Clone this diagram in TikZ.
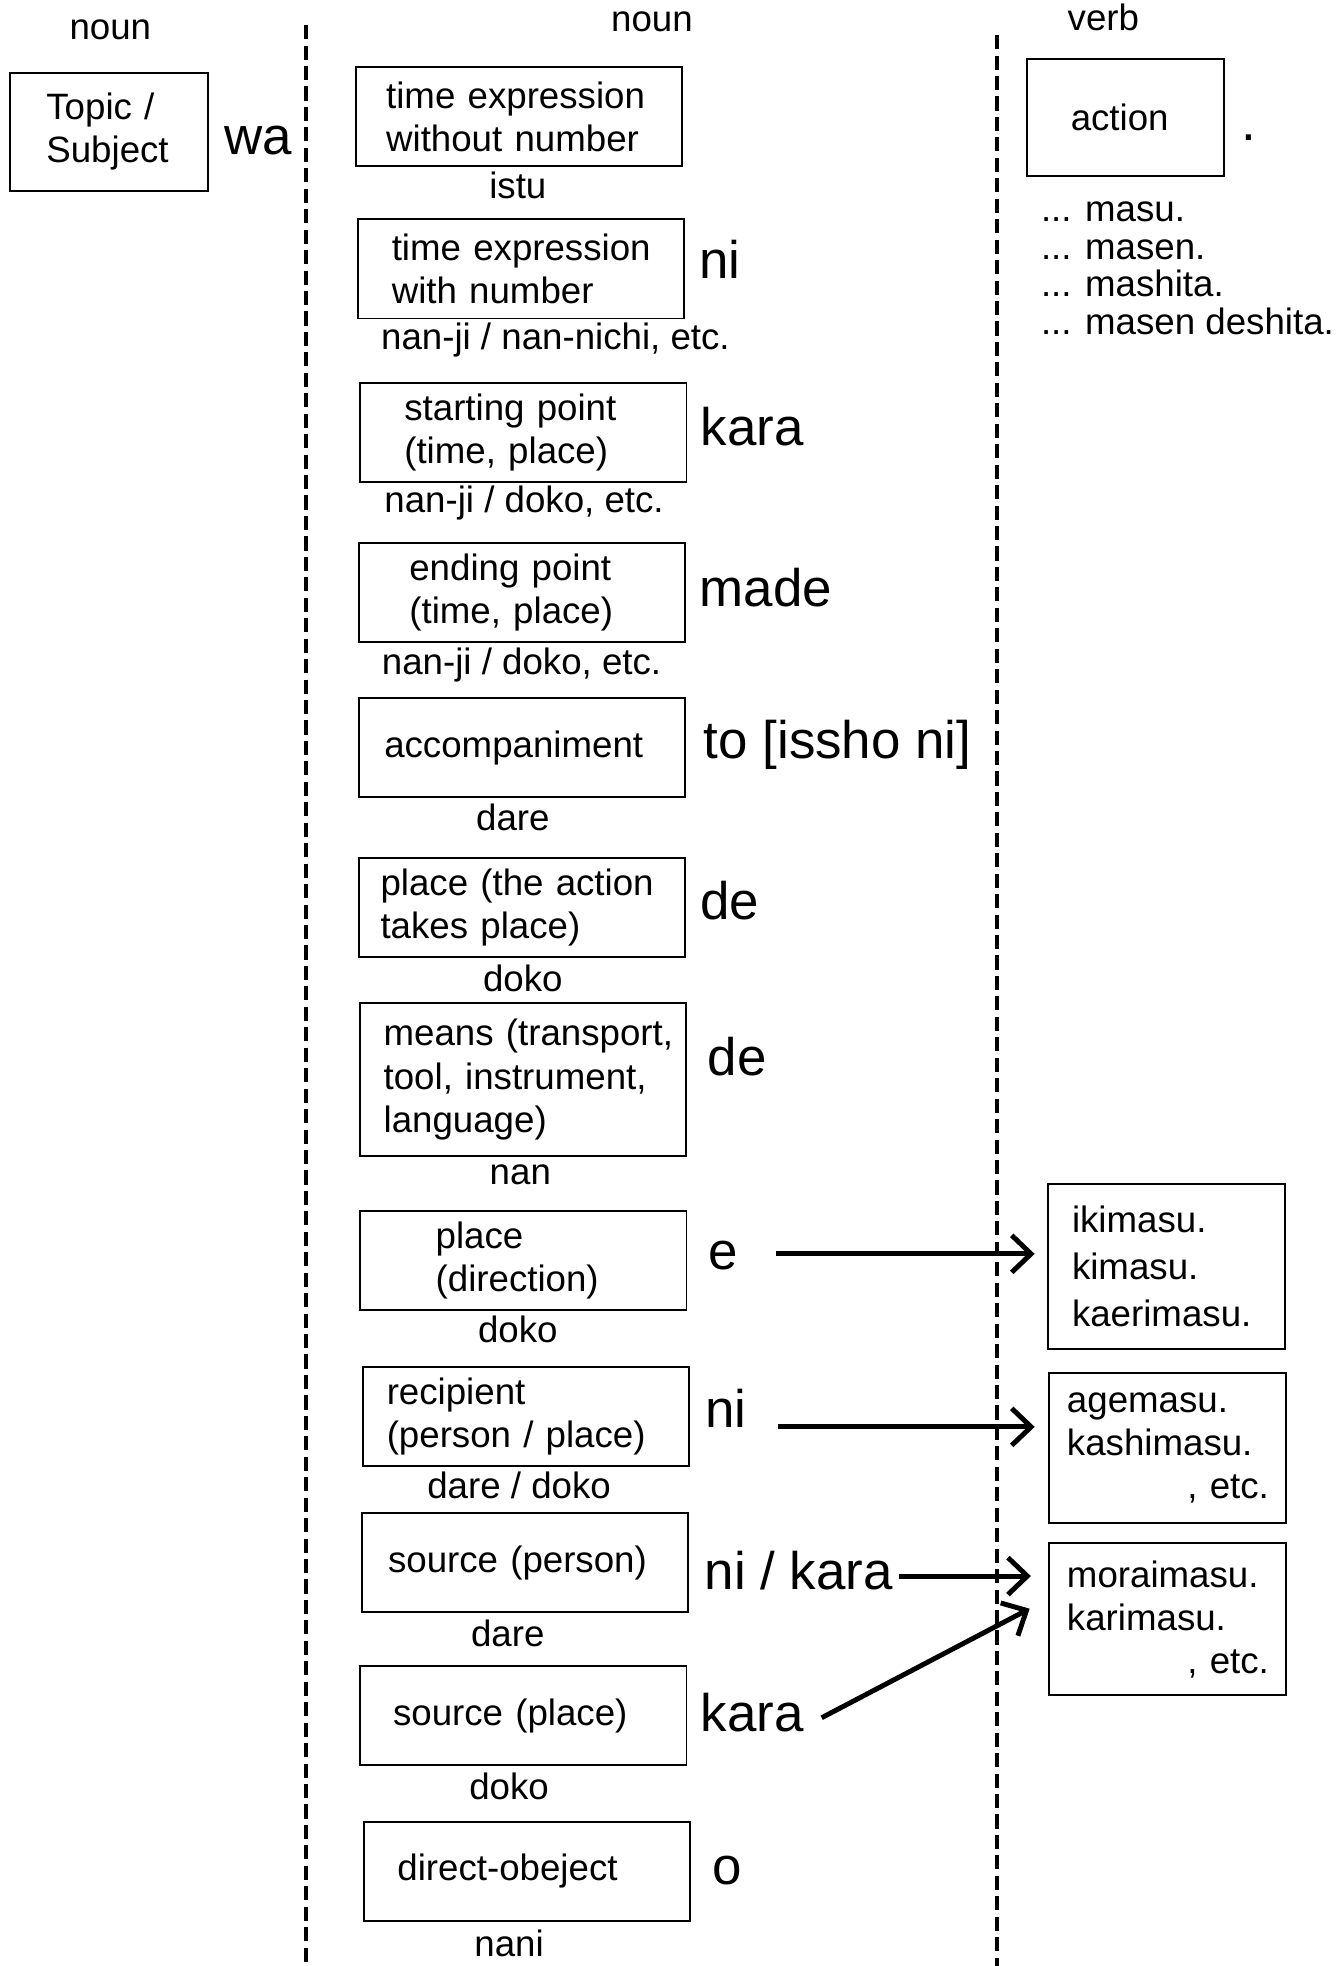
\documentclass[tikz,border=0pt]{standalone}
\usepackage{fontspec}
\setmainfont{Liberation Sans}
\usetikzlibrary{arrows.meta, calc}

\newcommand{\boxfont}{\fontsize{20.8}{24.5}\selectfont}
\newcommand{\partfont}{\fontsize{30}{34}\selectfont}
\newcommand{\etcline}{\makebox[\dimexpr\linewidth-0.7cm\relax][r]{, etc.}}

\begin{document}
\begin{tikzpicture}[
        x=0.025cm, y=-0.025cm,
        >={Straight Barb[length=11pt, width=21pt]},
        % Styles
        wordbox/.style={rectangle, draw, line width=1.1pt, align=left, inner sep=0pt,
                font=\boxfont},
        textindent/.style={execute at begin node={\leftskip=#1}},
        rolebox/.style={wordbox, textindent=#1, text width=6.5cm, minimum width=6.5cm,
                minimum height=1.975cm},
        verbbox/.style={wordbox, textindent=#1, text width=4.725cm, minimum width=4.725cm},
        particle/.style={font=\partfont, inner sep=0pt},
        hint/.style={font=\boxfont, inner sep=0pt},
        divider/.style={line width=2.1pt, dash pattern=on 8pt off 3.6pt},
        arrow/.style={->, line width=2.8pt}, ]

        \useasboundingbox (0,0) rectangle (1070,1568);

        % === HEADERS ===
        \node[hint] (hnoun1) at (88,24) {noun};
        \node[hint] (hnoun2) at (520,17) {noun};
        \node[hint] (hverb) at (880,14) {verb};

        % === DIVIDERS ===
        \coordinate (div1top) at (244,20);
        \coordinate (div1bot) at (244,1568);
        \coordinate (div2top) at (795,28);
        \coordinate (div2bot) at (795,1568);
        \draw[divider] (div1top) -- (div1bot);
        \draw[divider] (div2top) -- (div2bot);

        % === TOPIC ===
        \node[wordbox, textindent=0.725cm, text width=3.95cm, minimum height=2.35cm]
                (topic) at (87,105) {Topic /\\Subject};
        \node[particle] (pwa) at (206,112) {wa};

        % === NOUN + PARTICLE ROWS ===
        \node[rolebox=0.6cm] (tnone) at (414,93) {time expression\\without number};
        \node[hint] (qistu) at (413,148) {istu};

        \node[rolebox=0.675cm] (tnum) at (415.5,214.5) {time expression\\with number};
        \node[particle] (pni1) at (574,207) {ni};
        \node[hint] (qnanji1) at (443,271) {nan-ji / nan-nichi, etc.};

        \node[rolebox=0.875cm] (startpt) at (417.5,345) {starting point\\(time, place)};
        \node[particle] (pkara1) at (600,340) {kara};
        \node[hint] (qnanji2) at (418,401) {nan-ji / doko, etc.};

        \node[rolebox=1cm] (endpt) at (416.5,472.5) {ending point\\(time, place)};
        \node[particle] (pmade) at (611,469) {made};
        \node[hint] (qnanji3) at (416,530) {nan-ji / doko, etc.};

        \node[rolebox=0.5cm] (accomp) at (416.5,596.5) {accompaniment};
        \node[particle] (pto) at (668,594) {to [issho ni]};
        \node[hint] (qdare1) at (409,652) {dare};

        \node[rolebox=0.425cm] (actplace) at (416.5,723.5) {place (the action\\takes place)};
        \node[particle] (pde1) at (582,718) {de};
        \node[hint] (qdoko1) at (417,780) {doko};

        \node[rolebox=0.475cm, minimum height=3.05cm] (means) at (417,861)
                {means (transport,\\tool, instrument,\\language)};
        \node[particle] (pde2) at (588,843) {de};
        \node[hint] (qnan) at (415,937) {nan};

        \node[rolebox=1.5cm] (dirplace) at (417.5,1005) {place\\(direction)};
        \node[particle] (pe) at (577,1001) {e};
        \node[hint] (qdoko2) at (413,1060) {doko};

        \node[rolebox=0.475cm] (recip) at (419.5,1129.5) {recipient\\(person / place)};
        \node[particle] (pni2) at (579,1123) {ni};
        \node[hint] (qdaredoko) at (414,1185) {dare / doko};

        \node[rolebox=0.525cm] (srcperson) at (418.5,1246.5) {source (person)};
        \node[particle] (pnikara) at (637,1253) {ni / kara};
        \node[hint] (qdare2) at (405,1303) {dare};

        \node[rolebox=0.65cm] (srcplace) at (417.5,1368.5) {source (place)};
        \node[particle] (pkara2) at (600,1366) {kara};
        \node[hint] (qdoko3) at (406,1425) {doko};

        \node[rolebox=0.675cm] (dobj) at (420,1492.5) {direct-obeject};
        \node[particle] (po) at (580,1492) {o};
        \node[hint] (qnani) at (406,1550) {nani};

        % === VERB ===
        \node[wordbox, textindent=0.875cm, text width=3.925cm, minimum height=2.325cm]
                (action) at (897.5,93.5) {action};
        \node[particle] (pstop) at (996,110) {.};
        \node[hint, anchor=west, align=left, font=\fontsize{20.8}{21.3}\selectfont]
                (endings) at (830,214) {... masu.\\... masen.\\... mashita.\\... masen deshita.};

        \node[verbbox=0.475cm, minimum height=3.3cm,
                font=\fontsize{20.8}{26.5}\selectfont] (goverbs) at (930.5,1010)
                {ikimasu.\\kimasu.\\kaerimasu.};
        \node[verbbox=0.35cm, minimum height=3cm] (giveverbs) at (931.5,1155)
                {agemasu.\\kashimasu.\\\etcline};
        \node[verbbox=0.35cm, minimum height=3.025cm] (getverbs) at (931.5,1291.5)
                {moraimasu.\\karimasu.\\\etcline};

        % Connections
        \draw[arrow] ($(pe.east)+(30,-1)$) -- ($(pe.east -| goverbs.west)+(-10,-1)$);
        \draw[arrow] ($(pni2.east)+(25,15)$) -- ($(pni2.east -| giveverbs.west)+(-11,15)$);
        \draw[arrow] ($(pnikara.east)+(5,4)$) -- ($(pnikara.east -| getverbs.west)+(-14,4)$);
        \draw[arrow] ($(pkara2.east)+(14,4)$) -- ($(getverbs.west)+(-15,-8.5)$);

    \end{tikzpicture}
\end{document}
